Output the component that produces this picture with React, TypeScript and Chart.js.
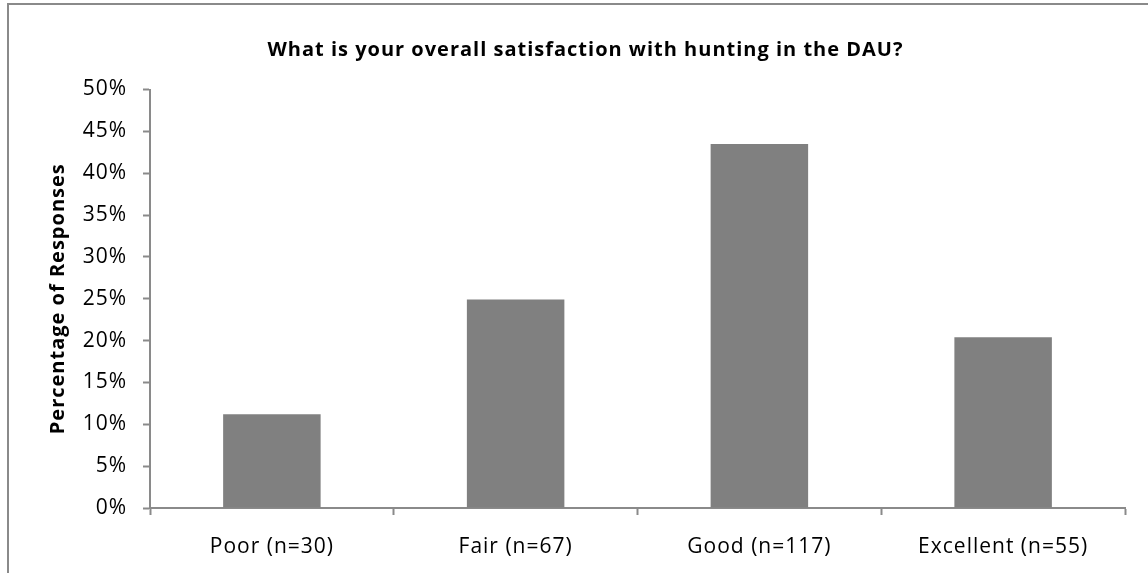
import React, { useEffect, useRef } from "react";
import { Chart, registerables } from "chart.js";

Chart.register(...registerables);

// Survey results: share of respondents per satisfaction rating
const categories = ["Poor (n=30)", "Fair (n=67)", "Good (n=117)", "Excellent (n=55)"];
const percentResponses = [11.2, 24.9, 43.5, 20.4];

const chartTitle = "What is your overall satisfaction with hunting in the DAU?";
const yAxisTitle = "Percentage of Responses";
const yMin = 0;
const yMax = 50;
const yStep = 5;

const FONT = "'Open Sans', 'Liberation Sans', sans-serif";
const AXIS_GRAY = "#8a8a8a";
const BAR_GRAY = "#808080";

// Outline of the chart box (left and top edges visible within the canvas)
const frameBorder = {
  id: "frameBorder",
  beforeDraw(chart: Chart) {
    const ctx = chart.ctx;
    ctx.save();
    ctx.strokeStyle = AXIS_GRAY;
    ctx.lineWidth = 2;
    ctx.strokeRect(8, 4, chart.width + 40, chart.height + 40);
    ctx.restore();
  },
};

// Slightly widened lettering for all chart text
const letterSpacing = {
  id: "letterSpacing",
  beforeUpdate(chart: Chart) {
    (chart.ctx as any).letterSpacing = "1px";
  },
  beforeDraw(chart: Chart) {
    (chart.ctx as any).letterSpacing = "1px";
  },
};

export default function App() {
  const canvasRef = useRef<HTMLCanvasElement | null>(null);

  useEffect(() => {
    document.body.style.margin = "0";
    const canvas = canvasRef.current;
    if (!canvas) return;

    const chart = new Chart(canvas, {
      type: "bar",
      data: {
        labels: categories,
        datasets: [
          {
            data: percentResponses,
            backgroundColor: BAR_GRAY,
            borderWidth: 0,
            categoryPercentage: 1,
            barPercentage: 0.4,
          },
        ],
      },
      options: {
        animation: false,
        responsive: false,
        devicePixelRatio: 1,
        layout: { padding: { left: 46, right: 23, top: 0, bottom: 0 } },
        plugins: {
          legend: { display: false },
          tooltip: { enabled: false },
          title: {
            display: true,
            text: chartTitle,
            color: "#000",
            font: { family: FONT, size: 20, weight: "bold" },
            padding: { top: 38, bottom: 27.5 },
          },
        },
        scales: {
          x: {
            grid: {
              display: true,
              drawOnChartArea: false,
              drawTicks: true,
              tickLength: 7,
              tickWidth: 2,
              color: AXIS_GRAY,
              offset: true,
            },
            border: { display: true, color: AXIS_GRAY, width: 2 },
            ticks: {
              color: "#000",
              font: { family: FONT, size: 21 },
              padding: 19,
              maxRotation: 0,
              autoSkip: false,
            },
            afterFit(scale: any) {
              scale.height = 65;
            },
          },
          y: {
            min: yMin,
            max: yMax,
            grid: {
              display: true,
              drawOnChartArea: false,
              drawTicks: true,
              tickLength: 7,
              tickWidth: 2,
              color: AXIS_GRAY,
            },
            border: { display: true, color: AXIS_GRAY, width: 2 },
            ticks: {
              stepSize: yStep,
              color: "#000",
              font: { family: FONT, size: 21 },
              padding: 16,
              callback: (v: any) => `${v}%`,
            },
            title: {
              display: true,
              text: yAxisTitle,
              color: "#000",
              font: { family: FONT, size: 20, weight: "bold" },
              padding: { top: 0, bottom: 0 },
            },
            afterFit(scale: any) {
              scale.width = 104;
            },
          },
        },
      },
      plugins: [letterSpacing, frameBorder],
    });

    return () => chart.destroy();
  }, []);

  return (
    <div style={{ position: "absolute", left: 0, top: 0, width: 1148, height: 573, background: "#fff" }}>
      <canvas ref={canvasRef} width={1148} height={573} style={{ display: "block" }} />
    </div>
  );
}
